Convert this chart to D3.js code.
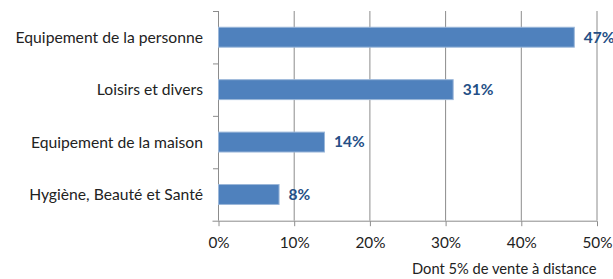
<!DOCTYPE html>
<html>
<head>
<meta charset="utf-8">
<script src="https://cdn.jsdelivr.net/npm/d3@7"></script>
<style>
body { margin: 0; background: #fff; }
text { font-family: Lato, "Open Sans", sans-serif; }
</style>
</head>
<body>
<div class="chart"></div>
<script>
const categories = ['Equipement de la personne', 'Loisirs et divers', 'Equipement de la maison', 'Hygiène, Beauté et Santé']
const values = [47, 31, 14, 8]
const ticks = [0, 10, 20, 30, 40, 50]
const note = 'Dont 5% de vente à distance'

const width = 613
const height = 279
const margin = {top: 11, right: 16.5, bottom: 58.3, left: 218}

const svg = d3.select('.chart').append('svg').attr('width', width).attr('height', height)

var xscale = d3.scaleLinear().domain([0, 50]).range([margin.left, width - margin.right])
var yscale = d3.scaleBand().domain(categories).range([margin.top, height - margin.bottom]).paddingInner(0.62).paddingOuter(0.31)

const plotTop = margin.top, plotBottom = height - margin.bottom

// gridlines
svg.append('g').selectAll('line').data(ticks.slice(1)).join('line')
    .attr('x1', d => xscale(d) + 0.5).attr('x2', d => xscale(d) + 0.5)
    .attr('y1', plotTop).attr('y2', plotBottom)
    .attr('stroke', '#8c8c8c').attr('stroke-width', 1)

// x axis
var xaxis = d3.axisBottom(xscale).tickValues(ticks).tickFormat(d => d + '%').tickSize(5).tickSizeOuter(0)
var gx = svg.append('g').attr('transform', `translate(0.5,${plotBottom + 0.5})`).call(xaxis)
gx.select('.domain').attr('d', `M${margin.left - 6},0H${xscale(50)}`)
gx.selectAll('line, .domain').attr('stroke', '#8c8c8c')
gx.selectAll('text').attr('dy', '0').attr('y', 27).attr('font-size', 15.3).attr('fill', '#222')

// y axis line with ticks at band edges
svg.append('line').attr('x1', margin.left + 0.5).attr('x2', margin.left + 0.5)
    .attr('y1', plotTop).attr('y2', plotBottom).attr('stroke', '#8c8c8c')
const step = yscale.step()
svg.append('g').selectAll('line').data(d3.range(categories.length)).join('line')
    .attr('x1', margin.left - 5).attr('x2', margin.left)
    .attr('y1', d => plotTop + d * step + 0.5).attr('y2', d => plotTop + d * step + 0.5)
    .attr('stroke', '#8c8c8c')

svg.append('g').selectAll('text').data(categories).join('text')
    .attr('x', margin.left - 15)
    .attr('y', d => yscale(d) + yscale.bandwidth() / 2)
    .attr('dy', '0.35em')
    .attr('text-anchor', 'end')
    .attr('font-size', 15.7)
    .attr('fill', '#222')
    .text(d => d)

// bars
svg.append('g').selectAll('rect').data(values).join('rect')
    .attr('x', xscale(0) + 0.5)
    .attr('y', (d, i) => yscale(categories[i]))
    .attr('width', d => xscale(d) - xscale(0))
    .attr('height', yscale.bandwidth())
    .attr('fill', '#4f81bd')
    .attr('stroke', '#9bb7d9').attr('stroke-width', 1)

svg.append('g').selectAll('text').data(values).join('text')
    .attr('x', d => xscale(d) + 10)
    .attr('y', (d, i) => yscale(categories[i]) + yscale.bandwidth() / 2)
    .attr('dy', '0.35em')
    .attr('font-size', 15.5)
    .attr('font-weight', 'bold')
    .attr('fill', '#254f86')
    .text(d => d + '%')

svg.append('text').attr('x', xscale(50)).attr('y', 274)
    .attr('text-anchor', 'end').attr('font-size', 14.7).attr('fill', '#222')
    .text(note)
</script>
</body>
</html>
